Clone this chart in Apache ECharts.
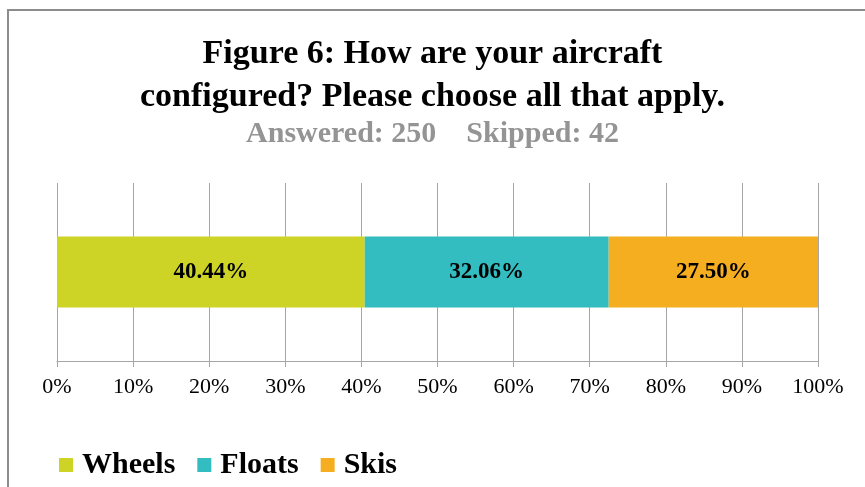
<!DOCTYPE html>
<html><head><meta charset="utf-8">
<script src="https://cdn.jsdelivr.net/npm/echarts@6/dist/echarts.min.js"></script>
<style>
html,body{margin:0;padding:0;background:#fff;}
#wrap{position:relative;width:865px;height:487px;overflow:hidden;}
#frame{position:absolute;left:7px;top:9px;width:900px;height:500px;border-left:2px solid #8c8c8c;border-top:2px solid #8c8c8c;box-sizing:border-box;pointer-events:none;z-index:2;}
#chart{position:absolute;left:0;top:0;width:865px;height:487px;}
</style></head>
<body><div id="wrap"><div id="chart"></div><div id="frame"></div></div>
<script>
const categories = ['Configuration'];
const seriesNames = ['Wheels', 'Floats', 'Skis'];
const wheels = [40.44];
const floats = [32.06];
const skis = [27.50];
const xTicks = [0, 10, 20, 30, 40, 50, 60, 70, 80, 90, 100];
const colors = ['#CDD425', '#33BDC0', '#F5AE1F'];
const serif = '"Liberation Serif", "DejaVu Serif", serif';

const chart = echarts.init(document.getElementById('chart'));
const values = [wheels, floats, skis];
chart.setOption({
  animation: false,
  title: [{
    text: 'Figure 6: How are your aircraft\nconfigured? Please choose all that apply.',
    left: 'center', top: 28,
    textStyle: {fontFamily: serif, fontWeight: 'bold', fontSize: 34, color: '#000', lineHeight: 43}
  }, {
    text: 'Answered: 250    Skipped: 42',
    left: 'center', top: 114,
    textStyle: {fontFamily: serif, fontWeight: 'bold', fontSize: 30, color: '#949494'}
  }],
  legend: {
    left: 54, top: 445, itemWidth: 14, itemHeight: 14, itemGap: 22,
    icon: 'rect',
    textStyle: {fontFamily: serif, fontWeight: 'bold', fontSize: 30, color: '#000', padding: [0,0,0,4]},
    data: seriesNames
  },
  grid: {left: 57, right: 47, top: 183, bottom: 126},
  xAxis: {
    type: 'value', min: 0, max: 100, interval: 10,
    axisLine: {show: true, lineStyle: {color: '#a6a6a6', width: 1}},
    axisTick: {show: true, length: 6, lineStyle: {color: '#a6a6a6'}},
    splitLine: {show: true, lineStyle: {color: '#a6a6a6', width: 1}},
    axisLabel: {margin: 15, fontFamily: serif, fontSize: 22, color: '#000',
      formatter: v => xTicks.includes(v) ? v + '%' : ''}
  },
  yAxis: {
    type: 'category', data: categories,
    axisLine: {show: false}, axisTick: {show: false}, axisLabel: {show: false}
  },
  series: seriesNames.map((n, i) => ({
    name: n, type: 'bar', stack: 'total', barWidth: '40%',
    data: values[i],
    itemStyle: {color: colors[i]},
    label: {show: true, position: 'inside', fontFamily: serif, fontWeight: 'bold', fontSize: 23, color: '#000',
      formatter: p => p.value.toFixed(2) + '%'}
  }))
});
</script></body></html>
